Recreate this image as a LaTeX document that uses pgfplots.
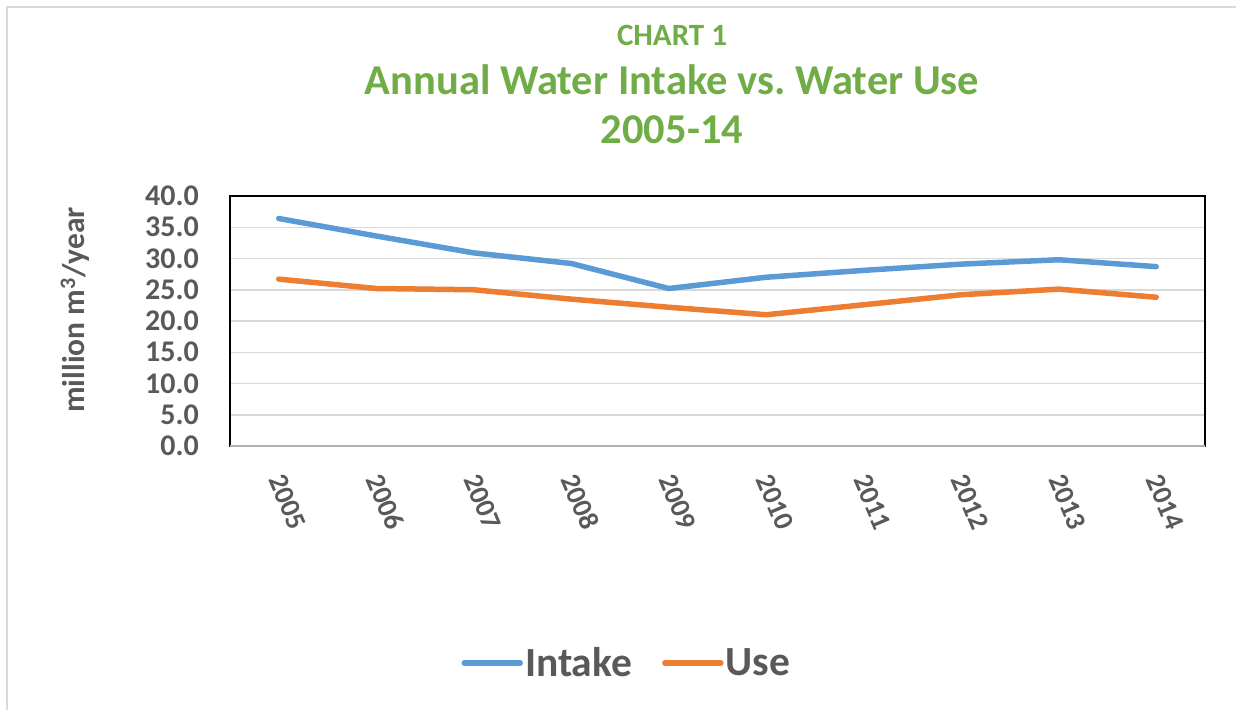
\documentclass[border=0pt]{standalone}
\usepackage{pgfplots}
\pgfplotsset{compat=1.18}
\usepackage{fontspec}
\setmainfont{Carlito}
\frenchspacing
\definecolor{cblue}{HTML}{5B9BD5}
\definecolor{corange}{HTML}{ED7D31}
\definecolor{cgreen}{HTML}{70AD47}
\definecolor{ctext}{HTML}{595959}
\definecolor{cgrid}{HTML}{D9D9D9}
\begin{document}
\begin{tikzpicture}[x=1pt,y=1pt]
\useasboundingbox (0,0) rectangle (1236,710);
\draw[cgrid, line width=2pt] (7,0) -- (7,703) -- (1236,703);
\node[font=\bfseries\fontsize{31}{33}\selectfont, text=cgreen] at (672,710-35) {CHART 1};
\node[font=\bfseries\fontsize{42.5}{45}\selectfont, text=cgreen] at (672,710-80) {Annual Water Intake vs. Water Use};
\node[font=\bfseries\fontsize{42.5}{45}\selectfont, text=cgreen] at (672,710-130) {2005-14};
\node[font=\bfseries\fontsize{31.5}{33}\selectfont, text=ctext, rotate=90] at (75,710-310) {million m\textsuperscript{3}/year};
\begin{axis}[
  at={(230pt,264pt)}, anchor=south west,
  scale only axis, width=975pt, height=250pt,
  xmin=-0.5, xmax=9.5, ymin=0, ymax=40,
  ytick={0,5,...,40}, xtick={0,...,9},
  xticklabels={2005,2006,2007,2008,2009,2010,2011,2012,2013,2014},
  major tick length=0pt,
  ymajorgrids, grid style={cgrid, line width=1.5pt},
  axis line style={black, line width=1.5pt},
  yticklabel={\pgfmathprintnumber[fixed,fixed zerofill,precision=1]{\tick}},
  /pgf/number format/assume math mode=true,
  yticklabel style={font=\bfseries\fontsize{30}{32}\selectfont, text=ctext, inner sep=0pt, anchor=east, xshift=-31pt},
  xticklabel style={font=\bfseries\fontsize{28}{30}\selectfont, text=ctext, inner sep=0pt, anchor=center, xshift=9pt, yshift=-56pt, rotate=-67},
  legend style={at={(axis description cs:0.407,-0.868)}, anchor=center, draw=none, fill=none,
    font=\bfseries\fontsize{41.5}{44}\selectfont, text=ctext, legend columns=2,
    /tikz/every even column/.append style={column sep=28pt}},
  legend image code/.code={\draw[#1, line cap=round] (0pt,0pt) -- (56pt,0pt);},
  clip=false,
]
\draw[black!30, line width=2.5pt] (axis cs:-0.5,0) -- (axis cs:9.5,0);
\addplot[cblue, line width=5.5pt, line cap=round, line join=round] coordinates {
(0,36.4) (1,33.6) (2,30.9) (3,29.2) (4,25.2) (5,27.0) (6,28.1) (7,29.1) (8,29.8) (9,28.7)};
\addlegendentry{Intake}
\addplot[corange, line width=5.5pt, line cap=round, line join=round] coordinates {
(0,26.7) (1,25.2) (2,25.0) (3,23.5) (4,22.2) (5,21.0) (6,22.6) (7,24.2) (8,25.1) (9,23.8)};
\addlegendentry{Use}
\end{axis}
\end{tikzpicture}
\end{document}
